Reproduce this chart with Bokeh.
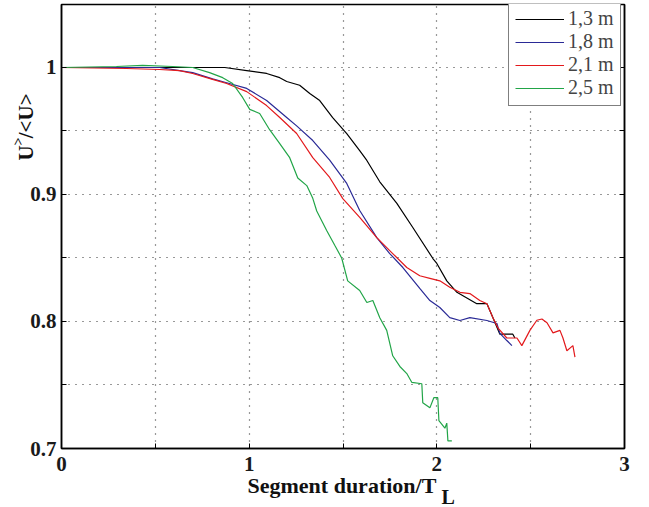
from bokeh.plotting import figure
from bokeh.models import FixedTicker, LinearAxis, Legend, LegendItem, Range1d, Title
from bokeh.embed import file_html
from bokeh.resources import INLINE

# ---------------- data ----------------
series_names = ["1,3 m", "1,8 m", "2,1 m", "2,5 m"]

x_13 = [0, 0.87, 0.987, 1.093, 1.163, 1.2, 1.269, 1.323, 1.376, 1.445, 1.52, 1.589, 1.627,
        1.696, 1.787, 1.872, 1.979, 2.0, 2.053, 2.107, 2.213, 2.267, 2.299, 2.336, 2.405, 2.416]
y_13 = [1.0, 1.0, 0.9976, 0.9953, 0.992, 0.989, 0.986, 0.9795, 0.974, 0.9606, 0.948, 0.9346, 0.9268,
        0.910, 0.893, 0.874, 0.8496, 0.8457, 0.832, 0.823, 0.814, 0.814, 0.803, 0.790, 0.790, 0.787]

x_18 = [0, 0.523, 0.629, 0.699, 0.805, 0.88, 0.987, 1.093, 1.2, 1.253, 1.339, 1.429, 1.52, 1.589,
        1.68, 1.749, 1.819, 1.909, 1.963, 2.016, 2.069, 2.123, 2.176, 2.267, 2.32, 2.336, 2.373, 2.4]
y_18 = [1.0, 1.0, 0.9976, 0.996, 0.991, 0.988, 0.9835, 0.974, 0.9606, 0.954, 0.9425, 0.927, 0.9087,
        0.8874, 0.866, 0.8535, 0.8425, 0.826, 0.8165, 0.811, 0.803, 0.8008, 0.803, 0.8008, 0.7984,
        0.7906, 0.785, 0.781]

x_21 = [0, 0.347, 0.523, 0.629, 0.699, 0.805, 0.88, 0.987, 1.093, 1.163, 1.253, 1.339, 1.429, 1.499,
        1.589, 1.68, 1.765, 1.84, 1.909, 1.963, 2.016, 2.069, 2.123, 2.176, 2.229, 2.267, 2.299, 2.325,
        2.373, 2.427, 2.453, 2.496, 2.533, 2.56, 2.587, 2.619, 2.656, 2.672, 2.693, 2.725, 2.736]
y_21 = [1.0, 0.9992, 0.9984, 0.9976, 0.9953, 0.9906, 0.9874, 0.981, 0.970, 0.9606, 0.948, 0.929, 0.9134,
        0.8968, 0.882, 0.866, 0.8535, 0.8425, 0.836, 0.834, 0.832, 0.827, 0.823, 0.822, 0.8165, 0.814,
        0.803, 0.795, 0.787, 0.787, 0.781, 0.793, 0.801, 0.802, 0.799, 0.791, 0.793, 0.787, 0.777,
        0.781, 0.772]

x_25 = [0, 0.293, 0.432, 0.592, 0.699, 0.789, 0.859, 0.912, 0.965, 1.003, 1.056, 1.109, 1.163, 1.216,
        1.259, 1.307, 1.339, 1.36, 1.413, 1.456, 1.493, 1.525, 1.589, 1.627, 1.659, 1.696, 1.733, 1.765,
        1.803, 1.84, 1.867, 1.92, 1.925, 1.963, 1.984, 2.005, 2.011, 2.043, 2.053, 2.059, 2.08]
y_25 = [1.0, 1.0008, 1.0016, 1.0008, 1.0, 0.996, 0.992, 0.9874, 0.9764, 0.967, 0.9638, 0.951, 0.940,
        0.929, 0.913, 0.907, 0.897, 0.887, 0.8717, 0.860, 0.850, 0.832, 0.8244, 0.815, 0.8165, 0.803,
        0.793, 0.773, 0.7646, 0.759, 0.752, 0.751, 0.736, 0.732, 0.740, 0.740, 0.722, 0.716, 0.720,
        0.706, 0.706]

x_ticks = [0, 1, 2, 3]
x_tick_labels = ["0", "1", "2", "3"]
x_half_ticks = [0.5, 1.5, 2.5]
y_ticks = [0.7, 0.8, 0.9, 1.0]
y_tick_labels = ["0.7", "0.8", "0.9", "1"]
y_half_ticks = [0.75, 0.85, 0.95]

colors = ["#000000", "#2a2a96", "#e3191c", "#22a548"]

# ---------------- figure ----------------
p = figure(width=649, height=507, output_backend="svg", toolbar_location=None,
           x_range=Range1d(0, 3), y_range=Range1d(0.7, 1.0496),
           min_border_left=61, min_border_right=25, min_border_top=4, min_border_bottom=59)
p.background_fill_color = "white"
p.border_fill_color = "white"
p.outline_line_color = "black"
p.outline_line_width = 1.5

FONT = "Liberation Serif"

renderers = []
for xs, ys, c in zip([x_13, x_18, x_21, x_25], [y_13, y_18, y_21, y_25], colors):
    r = p.line(xs, ys, line_color=c, line_width=1.2)
    renderers.append(r)

p.xaxis.ticker = FixedTicker(ticks=x_ticks, minor_ticks=x_half_ticks)
p.yaxis.ticker = FixedTicker(ticks=y_ticks, minor_ticks=y_half_ticks)
p.xaxis.major_label_overrides = {t: l for t, l in zip(x_ticks, x_tick_labels)}
p.yaxis.major_label_overrides = {t: l for t, l in zip(y_ticks, y_tick_labels)}

for ax in [p.xaxis[0], p.yaxis[0]]:
    ax.major_tick_in = 5
    ax.major_tick_out = 0
    ax.minor_tick_in = 5
    ax.minor_tick_out = 0
    ax.axis_line_color = "black"
    ax.axis_line_width = 1.5
    ax.major_tick_line_color = "black"
    ax.minor_tick_line_color = "black"
    ax.major_label_text_font = FONT
    ax.major_label_text_font_style = "bold"
    ax.major_label_text_font_size = "21px"
    ax.major_label_text_color = "#1a1a1a"
p.xaxis.major_label_standoff = 8
p.yaxis.major_label_standoff = 5

ra = LinearAxis(ticker=FixedTicker(ticks=[], minor_ticks=y_ticks + y_half_ticks),
                major_tick_in=0, major_tick_out=0, minor_tick_in=5, minor_tick_out=0,
                axis_line_color="black", axis_line_width=1.5, minor_tick_line_color="black",
                major_label_standoff=0)
p.add_layout(ra, "right")

p.xgrid.ticker = FixedTicker(ticks=x_ticks[1:-1] + x_half_ticks)
p.ygrid.ticker = FixedTicker(ticks=y_ticks[1:] + y_half_ticks)
for g in [p.xgrid[0], p.ygrid[0]]:
    g.grid_line_color = "#333333"
    g.grid_line_dash = "1 6"
    g.grid_line_width = 1.2

# axis titles (as Titles in the side panels, so they are not clipped by the frame)
tstyle = dict(text_font=FONT, text_font_style="bold", text_color="#111111")
p.add_layout(Title(text="Segment duration/T", align="left", offset=186, standoff=-6,
                   text_font_size="22px", **tstyle), "below")
p.add_layout(Title(text="L", align="left", offset=380, standoff=-26,
                   text_font_size="20px", **tstyle), "below")

p.add_layout(Title(text="U\u2004/<U>", align="left", offset=288, standoff=-20,
                   text_font_size="21px", **tstyle), "left")
p.add_layout(Title(text=">", align="left", offset=303, standoff=-8,
                   text_font_size="14px", **tstyle), "left")

legend = Legend(items=[LegendItem(label=n, renderers=[r]) for n, r in zip(series_names, renderers)],
                location=(447, 342), label_text_font=FONT, label_text_font_size="20px",
                glyph_width=49, glyph_height=22, label_height=22, label_standoff=4,
                spacing=0, padding=6, margin=0, border_line_color="black", border_line_width=1,
                background_fill_alpha=1.0)
p.add_layout(legend)

open("out.html", "w").write(file_html(p, INLINE))
